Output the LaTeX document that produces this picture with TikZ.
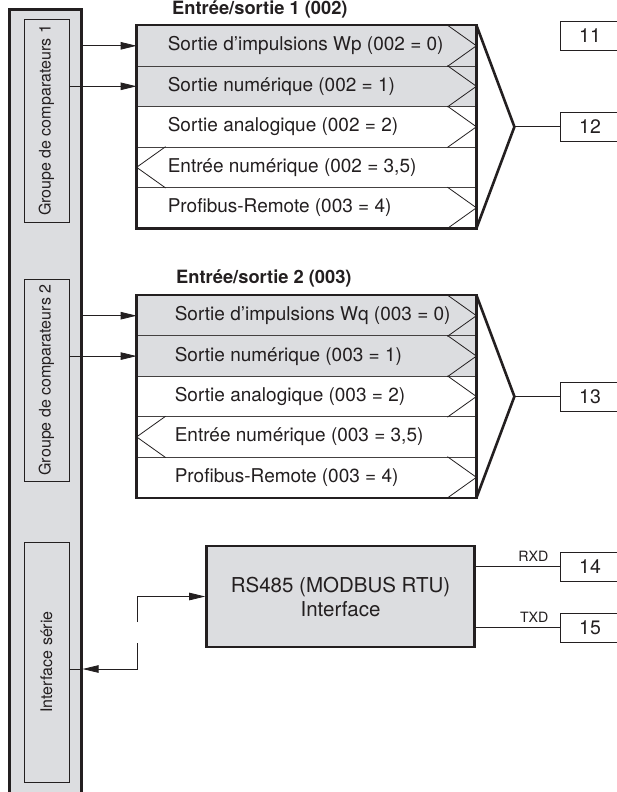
\documentclass[tikz,border=0pt]{standalone}
\usepackage{fontspec}
\setmainfont{TeX Gyre Heros}
\usetikzlibrary{arrows.meta, calc, positioning}
\definecolor{panel}{RGB}{220,221,224}
\definecolor{ink}{RGB}{35,31,32}

\tikzset{
  thin line/.style={draw=ink, line width=0.8pt},
  heavy/.style={draw=ink, line width=2.6pt},
  arr/.style={thin line, -{Triangle[length=16pt, width=7.5pt]}},
  inbox/.style={thin line, fill=panel, minimum width=45, minimum height=#1, inner sep=0},
  sidetxt/.style={rotate=90, inner sep=0, text=ink, font=\fontsize{16}{18}\selectfont},
  iorow/.style={draw=ink!85, line width=0.8pt, minimum width=339, minimum height=40.5, inner sep=0},
  rowtxt/.style={anchor=west, inner sep=0, text=ink, font=\fontsize{19}{21}\selectfont},
  title/.style={anchor=west, inner sep=0, text=ink, font=\fontsize{18.3}{20}\selectfont\bfseries},
  term/.style={thin line, minimum width=60, minimum height=29, inner sep=0, text=ink, font=\fontsize{19.5}{20}\selectfont},
  sig/.style={anchor=south east, inner sep=0, text=ink, font=\fontsize{14.2}{16}\selectfont},
}

\begin{document}
\begin{tikzpicture}[x=1pt, y=-1pt]
  \useasboundingbox (0,0) rectangle (616,792);

  % bar on the left
  \node [heavy, fill=panel, minimum width=72, minimum height=800, inner sep=0, anchor=north] (bar) at (45.3,8.5) {};
  \node [inbox=203] (g1) at (46.5,120.5) {};
  \node [sidetxt] at (g1) {Groupe de comparateurs 1};
  \node [inbox=202] (g2) at (46.5,380) {};
  \node [sidetxt] at (g2) {Groupe de comparateurs 2};
  \node [inbox=240] (g3) at (46.5,662) {};
  \node [sidetxt] at (g3) {Interface série};

  % Entree/sortie 1
  \node [title] (h1) at (172,9) {Entrée/sortie 1 (002)};
  \node [iorow, fill=panel] (a1) at (306.5,45.8) {};
  \node [iorow, fill=panel] (a2) at (306.5,86.3) {};
  \node [iorow, fill=white] (a3) at (306.5,126.8) {};
  \node [iorow, fill=white] (a4) at (306.5,167.3) {};
  \node [iorow, fill=white] (a5) at (306.5,207.8) {};
  \node [rowtxt] at ([xshift=31]a1.west) {Sortie d’impulsions Wp (002 = 0)};
  \node [rowtxt] at ([xshift=31]a2.west) {Sortie numérique (002 = 1)};
  \node [rowtxt] at ([xshift=31]a3.west) {Sortie analogique (002 = 2)};
  \node [rowtxt] at ([xshift=31]a4.west) {Entrée numérique (002 = 3,5)};
  \node [rowtxt] at ([xshift=31]a5.west) {Profibus-Remote (003 = 4)};
  \draw [thin line] ([xshift=-29]a1.north east) -- (a1.east) -- ([xshift=-29]a1.south east);
  \draw [thin line] ([xshift=-29]a2.north east) -- (a2.east) -- ([xshift=-29]a2.south east);
  \draw [thin line] ([xshift=-29]a3.north east) -- (a3.east) -- ([xshift=-29]a3.south east);
  \draw [thin line] ([xshift=29]a4.north west) -- (a4.west) -- ([xshift=29]a4.south west);
  \draw [thin line] ([xshift=-29]a5.north east) -- (a5.east) -- ([xshift=-29]a5.south east);
  \draw [heavy] (a1.north west) rectangle (a5.south east);
  \coordinate (k1) at ($(a3.east)+(38,0)$);
  \draw [heavy, line join=miter] (a1.north east) -- (k1) -- (a5.south east);

  \node [term] (t11) at (590,35.5) {11};
  \node [term] (t12) at (590,126.8) {12};
  \draw [thin line] (k1) -- (t12.west);

  \draw [arr] (bar.east |- a1.west) -- (a1.west);
  \draw [arr] (g1.east |- a2.west) -- (a2.west);

  % Entree/sortie 2
  \node [title] (h2) at (176,278) {Entrée/sortie 2 (003)};
  \node [iorow, fill=panel] (b1) at (306.5,315.7) {};
  \node [iorow, fill=panel] (b2) at (306.5,356.1) {};
  \node [iorow, fill=white] (b3) at (306.5,396.5) {};
  \node [iorow, fill=white] (b4) at (306.5,436.9) {};
  \node [iorow, fill=white] (b5) at (306.5,477.3) {};
  \node [rowtxt] at ([xshift=38]b1.west) {Sortie d’impulsions Wq (003 = 0)};
  \node [rowtxt] at ([xshift=38]b2.west) {Sortie numérique (003 = 1)};
  \node [rowtxt] at ([xshift=38]b3.west) {Sortie analogique (003 = 2)};
  \node [rowtxt] at ([xshift=38]b4.west) {Entrée numérique (003 = 3,5)};
  \node [rowtxt] at ([xshift=38]b5.west) {Profibus-Remote (003 = 4)};
  \draw [thin line] ([xshift=-29]b1.north east) -- (b1.east) -- ([xshift=-29]b1.south east);
  \draw [thin line] ([xshift=-29]b2.north east) -- (b2.east) -- ([xshift=-29]b2.south east);
  \draw [thin line] ([xshift=-29]b3.north east) -- (b3.east) -- ([xshift=-29]b3.south east);
  \draw [thin line] ([xshift=29]b4.north west) -- (b4.west) -- ([xshift=29]b4.south west);
  \draw [thin line] ([xshift=-29]b5.north east) -- (b5.east) -- ([xshift=-29]b5.south east);
  \draw [heavy] (b1.north west) rectangle (b5.south east);
  \coordinate (k2) at ($(b3.east)+(38,0)$);
  \draw [heavy, line join=miter] (b1.north east) -- (k2) -- (b5.south east);

  \node [term] (t13) at (590,396.5) {13};
  \draw [thin line] (k2) -- (t13.west);

  \draw [arr] (bar.east |- b1.west) -- (b1.west);
  \draw [arr] (g2.east |- b2.west) -- (b2.west);

  % RS485
  \node [heavy, fill=panel, minimum width=268, minimum height=101, inner sep=0, align=center, text=ink,
         font=\fontsize{20.5}{24}\selectfont] (rs) at (340.5,596.5) {RS485 (MODBUS RTU)\\Interface};
  \node [term] (t14) at (590,566.5) {14};
  \node [term] (t15) at (590,627.5) {15};
  \draw [thin line] (t14.west -| rs.east) -- (t14.west);
  \draw [thin line] (t15.west -| rs.east) -- (t15.west);
  \node [sig] at ([xshift=-11, yshift=5]t14.west) {RXD};
  \node [sig] at ([xshift=-11, yshift=5]t15.west) {TXD};

  \coordinate (s1) at (137,596.5);
  \coordinate (s2) at (137,622);
  \coordinate (s3) at (137,643);
  \coordinate (s4) at (137,669);
  \draw [arr] (s2) -- (s1) -- (rs.west);
  \draw [arr] (s3) -- (s4) -- (s4 -| bar.east);
  \draw [thin line] (s4 -| bar.east) -- (s4 -| g3.east);
\end{tikzpicture}
\end{document}
